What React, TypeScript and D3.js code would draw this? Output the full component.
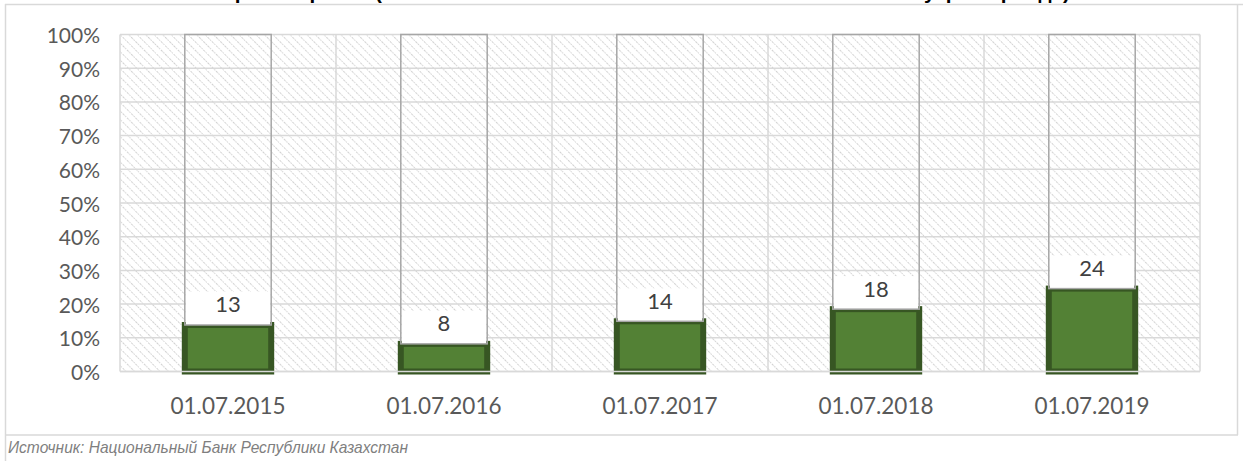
import React from "react";
import * as d3 from "d3";

const categories = ["01.07.2015", "01.07.2016", "01.07.2017", "01.07.2018", "01.07.2019"];
const values = [13.8, 8.2, 14.9, 18.5, 24.6];
const valueLabels = ["13", "8", "14", "18", "24"];
const yTicks = [0, 10, 20, 30, 40, 50, 60, 70, 80, 90, 100];
const titleText = "Прямые риски (в % от итоговых активов всех банков Казахстана на утро периода)";
const sourceText = "Источник: Национальный Банк Республики Казахстан";

const W = 1243;
const H = 461;
const plot = { left: 120, right: 1200, top: 34.5, bottom: 371.5 };
const FONT = "Lato, 'Open Sans', sans-serif";

export default function App() {
  const x = d3
    .scaleBand<string>()
    .domain(categories)
    .range([plot.left, plot.right])
    .paddingInner(0.6)
    .paddingOuter(0.3);
  const step = x.step();
  const y = d3.scaleLinear().domain([0, 100]).range([plot.bottom, plot.top]);
  const bounds = d3.range(categories.length + 1).map((i) => plot.left + i * step);

  return (
    <div style={{ position: "absolute", left: 0, top: 0 }}>
      <svg width={W} height={H} style={{ display: "block" }}>
        <defs>
          <pattern id="hatch" width="6" height="6" patternUnits="userSpaceOnUse" patternTransform="rotate(-45)">
            <line x1="0" y1="0" x2="0" y2="6" stroke="#cfcfcf" strokeWidth="1.8" strokeDasharray="1.5 1" />
          </pattern>
        </defs>
        <rect x={0} y={0} width={W} height={H} fill="#fff" />
        {/* title (cropped at top) */}
        <text
          x={220}
          y={-1}
          textLength={850}
          lengthAdjust="spacingAndGlyphs"
          fontFamily="'Liberation Sans', Arial, sans-serif"
          fontWeight="bold"
          fontSize={20}
          fill="#000"
        >
          {titleText}
        </text>
        {/* outer frame */}
        <line x1={5} x2={W} y1={4.5} y2={4.5} stroke="#d9d9d9" strokeWidth={1.5} />
        <line x1={5.5} x2={5.5} y1={4} y2={H} stroke="#d9d9d9" strokeWidth={1.5} />
        <line x1={5} x2={1238} y1={435} y2={435} stroke="#d9d9d9" strokeWidth={1.5} />
        <line x1={1237.5} x2={1237.5} y1={4} y2={435} stroke="#d9d9d9" strokeWidth={1.5} />

        {/* plot area hatch */}
        <rect
          x={plot.left}
          y={plot.top}
          width={plot.right - plot.left}
          height={plot.bottom - plot.top}
          fill="url(#hatch)"
        />
        {/* gridlines */}
        {yTicks.map((t) => (
          <line key={"g" + t} x1={plot.left} x2={plot.right} y1={y(t)} y2={y(t)} stroke="#d9d9d9" strokeWidth={1.5} />
        ))}
        {bounds.map((b, i) => (
          <line key={"v" + i} x1={b} x2={b} y1={plot.top} y2={plot.bottom} stroke="#d9d9d9" strokeWidth={1.5} />
        ))}

        {/* bars */}
        {categories.map((c, i) => {
          const x0 = x(c)!;
          const bw = x.bandwidth();
          const top = y(values[i]);
          return (
            <g key={c}>
              <rect x={x0} y={top} width={bw} height={plot.bottom - top} fill="#538135" stroke="#375623" strokeWidth={6} />
              <rect x={x0 + 1} y={top - 33} width={bw - 2} height={33} fill="#fff" />
              <rect x={x0} y={y(100)} width={bw} height={top - y(100)} fill="none" stroke="#a6a6a6" strokeWidth={1.5} />
              <text
                x={x0 + bw / 2}
                y={top - 21}
                textAnchor="middle"
                dominantBaseline="central"
                fontFamily={FONT}
                fontSize={22}
                fill="#404040"
              >
                {valueLabels[i]}
              </text>
            </g>
          );
        })}
        {/* axis line */}
        <line x1={plot.left} x2={plot.right} y1={plot.bottom} y2={plot.bottom} stroke="#d9d9d9" strokeWidth={1.5} />

        {/* y tick labels */}
        {yTicks.map((t) => (
          <text
            key={"yl" + t}
            x={100}
            y={y(t)}
            textAnchor="end"
            dominantBaseline="central"
            fontFamily={FONT}
            fontSize={21}
            fill="#595959"
          >
            {t + "%"}
          </text>
        ))}
        {/* x tick labels */}
        {categories.map((c) => (
          <text
            key={"xl" + c}
            x={x(c)! + x.bandwidth() / 2}
            y={405}
            textAnchor="middle"
            dominantBaseline="central"
            fontFamily={FONT}
            fontSize={22.5}
            fill="#595959"
          >
            {c}
          </text>
        ))}
        {/* source */}
        <text
          x={8}
          y={453}
          textLength={400}
          lengthAdjust="spacingAndGlyphs"
          fontFamily="'Liberation Sans', Arial, sans-serif"
          fontStyle="italic"
          fontSize={17}
          fill="#7f7f7f"
        >
          {sourceText}
        </text>
      </svg>
    </div>
  );
}
